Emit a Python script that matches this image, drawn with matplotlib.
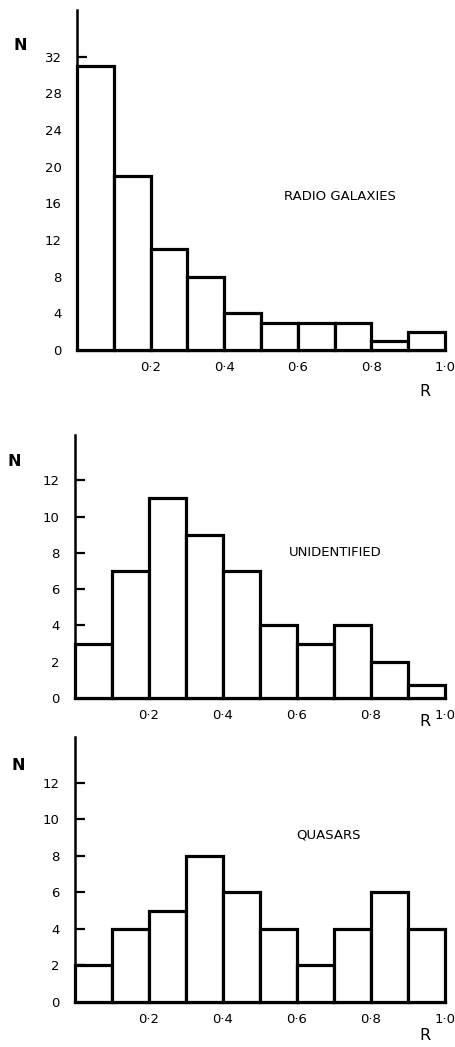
import numpy as np
import matplotlib.pyplot as plt

# bin left edges for R (0.0 .. 0.9, width 0.1)
bin_edges = np.round(np.arange(0.0, 1.0, 0.1), 1)

radio_counts = [31, 19, 11, 8, 4, 3, 3, 3, 1, 2]
unident_counts = [3, 7, 11, 9, 7, 4, 3, 4, 2, 0.7]
quasar_counts = [2, 4, 5, 8, 6, 4, 2, 4, 6, 4]

x_ticks = [0.2, 0.4, 0.6, 0.8, 1.0]
x_ticklabels = ['0·2', '0·4', '0·6', '0·8', '1·0']

W, H = 456, 1047
fig = plt.figure(figsize=(W / 100, H / 100), dpi=100)
plt.rcParams['font.family'] = ['DejaVu Sans']


def px_box(left, top, right, bottom):
    """axes rectangle from pixel coords of the reference"""
    return [left / W, 1 - bottom / H, (right - left) / W, (bottom - top) / H]


def draw_panel(box, counts, ymax, yticks, name, name_xy, n_xy, r_xy):
    ax = fig.add_axes(box)
    ax.bar(bin_edges, counts, width=0.1, align='edge', facecolor='white',
           edgecolor='black', linewidth=2.3, clip_on=False, zorder=3)
    ax.set_xlim(0, 1.0)
    ax.set_ylim(0, ymax)
    ax.spines['top'].set_visible(False)
    ax.spines['right'].set_visible(False)
    ax.spines['left'].set_linewidth(1.8)
    ax.spines['bottom'].set_linewidth(2.3)
    ax.set_yticks(yticks)
    ax.tick_params(axis='y', direction='in', length=7, width=1.6,
                   labelsize=9.5, pad=11)
    ax.set_xticks(x_ticks)
    ax.set_xticklabels(x_ticklabels)
    ax.tick_params(axis='x', length=0, labelsize=9.5, pad=8)
    ax.text(name_xy[0], name_xy[1], name, transform=fig.transFigure,
            ha='center', va='center', fontsize=9.5)
    fig.text(n_xy[0] / W, 1 - n_xy[1] / H, 'N', fontsize=11.5,
             fontweight='bold', ha='center', va='center')
    fig.text(r_xy[0] / W, 1 - r_xy[1] / H, 'R', fontsize=11.5,
             ha='center', va='center')
    return ax


draw_panel(px_box(77, 10, 445, 350), radio_counts, 37.1,
           [0, 4, 8, 12, 16, 20, 24, 28, 32], 'RADIO GALAXIES',
           (340 / W, 1 - 197 / H), (20, 45), (425, 392))
draw_panel(px_box(75, 435, 445, 698), unident_counts, 14.5,
           [0, 2, 4, 6, 8, 10, 12], 'UNIDENTIFIED',
           (335 / W, 1 - 552 / H), (14, 462), (425, 722))
draw_panel(px_box(75, 737, 445, 1002), quasar_counts, 14.5,
           [0, 2, 4, 6, 8, 10, 12], 'QUASARS',
           (329 / W, 1 - 835 / H), (18, 766), (425, 1035))

fig.savefig('out.png', dpi=100, facecolor='white')
